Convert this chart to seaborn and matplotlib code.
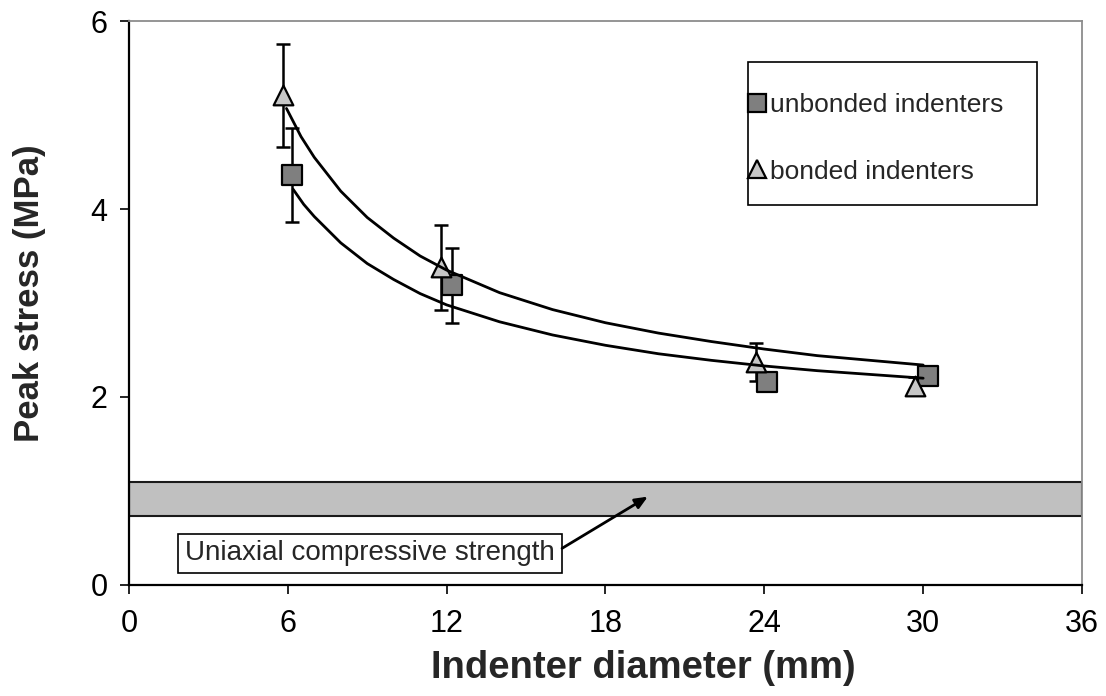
import matplotlib
matplotlib.use("Agg")
import matplotlib.pyplot as plt
from matplotlib.patches import Rectangle
from matplotlib.lines import Line2D
import pandas as pd
import seaborn as sns

# Peak stress (MPa) per indenter, mean and standard deviation
unbonded_diam = [6.15, 12.2, 24.1, 30.2]
unbonded_stress = [4.36, 3.19, 2.16, 2.22]
unbonded_err = [0.50, 0.40, 0.05, 0.05]

bonded_diam = [5.8, 11.8, 23.7, 29.7]
bonded_stress = [5.21, 3.38, 2.37, 2.12]
bonded_err = [0.55, 0.45, 0.20, 0.09]

# Fitted trend curves
unbonded_fit_x = [6.2, 6.6, 7, 8, 9, 10, 11, 12, 14, 16, 18, 20, 22, 24, 26, 28, 30]
unbonded_fit_y = [4.21, 4.05, 3.92, 3.64, 3.42, 3.25, 3.10, 2.98, 2.80, 2.66,
                  2.55, 2.46, 2.39, 2.33, 2.28, 2.24, 2.20]
bonded_fit_x = [5.95, 6.5, 7, 8, 9, 10, 11, 12, 14, 16, 18, 20, 22, 24, 26, 28, 30]
bonded_fit_y = [5.07, 4.77, 4.55, 4.19, 3.91, 3.69, 3.50, 3.35, 3.11, 2.93,
                2.79, 2.68, 2.59, 2.51, 2.44, 2.39, 2.34]

# Uniaxial compressive strength range (MPa)
ucs_low, ucs_high = 0.73, 1.10

x_ticks = [0, 6, 12, 18, 24, 30, 36]
y_ticks = [0, 2, 4, 6]

sns.set_style("white")
plt.rcParams["font.family"] = ["Liberation Sans", "DejaVu Sans"]

fig = plt.figure(figsize=(11.06, 6.96), dpi=100)
ax = fig.add_axes([0.1166, 0.1595, 0.8617, 0.8103])

SQ_FILL = "#7f7f7f"
TRI_FILL = "#c6c6c6"

# strength band
ax.add_patch(Rectangle((0, ucs_low), 36, ucs_high - ucs_low, facecolor="#c0c0c0",
                       edgecolor="#1a1a1a", linewidth=1.5, zorder=1))

# error bars
ax.errorbar(unbonded_diam, unbonded_stress, yerr=unbonded_err, fmt="none",
            ecolor="black", elinewidth=1.8, capsize=5, capthick=1.8, zorder=2)
ax.errorbar(bonded_diam, bonded_stress, yerr=bonded_err, fmt="none",
            ecolor="black", elinewidth=1.8, capsize=5, capthick=1.8, zorder=2)

# markers
unb = pd.DataFrame({"d": unbonded_diam, "s": unbonded_stress})
bon = pd.DataFrame({"d": bonded_diam, "s": bonded_stress})
sns.scatterplot(data=unb, x="d", y="s", marker="s", s=190, color=SQ_FILL,
                edgecolor="black", linewidth=1.6, ax=ax, zorder=3)
sns.scatterplot(data=bon, x="d", y="s", marker="^", s=200, color=TRI_FILL,
                edgecolor="black", linewidth=1.6, ax=ax, zorder=4)

# trend curves
fu = pd.DataFrame({"x": unbonded_fit_x, "y": unbonded_fit_y})
fb = pd.DataFrame({"x": bonded_fit_x, "y": bonded_fit_y})
sns.lineplot(data=fu, x="x", y="y", color="black", linewidth=2.0, ax=ax,
             sort=False, estimator=None, zorder=5)
sns.lineplot(data=fb, x="x", y="y", color="black", linewidth=2.0, ax=ax,
             sort=False, estimator=None, zorder=5)

ax.set_xlim(0, 36)
ax.set_ylim(0, 6)
ax.set_xticks(x_ticks)
ax.set_yticks(y_ticks)
ax.tick_params(axis="both", direction="out", length=6.5, width=1.2,
               labelsize=22, colors="black", pad=9)
ax.tick_params(axis="x", pad=11)
ax.tick_params(bottom=True, left=True)

for side in ["left", "bottom"]:
    ax.spines[side].set_color("black")
    ax.spines[side].set_linewidth(1.6)
for side in ["top", "right"]:
    ax.spines[side].set_color("#8c8c8c")
    ax.spines[side].set_linewidth(1.3)

ax.set_xlabel("Indenter diameter (mm)", fontsize=27.5, fontweight="bold")
ax.set_ylabel("Peak stress (MPa)", fontsize=25, fontweight="bold")
ax.xaxis.set_label_coords(0.54, -0.116)
ax.yaxis.set_label_coords(-0.087, 0.518)

# label box and arrow for the strength band
ax.text(9.1, 0.335, "Uniaxial compressive strength", fontsize=20,
        ha="center", va="center", zorder=6,
        bbox=dict(boxstyle="square,pad=0.25", facecolor="white",
                  edgecolor="black", linewidth=1.2))
ax.annotate("", xy=(19.6, 0.94), xytext=(16.36, 0.39),
            arrowprops=dict(arrowstyle="-|>,head_length=0.75,head_width=0.32",
                            color="black", linewidth=2.0, shrinkA=0, shrinkB=0),
            zorder=6)

# legend
ax.add_patch(Rectangle((0.6495, 0.674), 0.3033, 0.2533, transform=ax.transAxes,
                       facecolor="white", edgecolor="black", linewidth=1.2, zorder=6))
handles = [
    Line2D([], [], marker="s", linestyle="none", markersize=13,
           markerfacecolor=SQ_FILL, markeredgecolor="black", markeredgewidth=1.6),
    Line2D([], [], marker="^", linestyle="none", markersize=13,
           markerfacecolor=TRI_FILL, markeredgecolor="black", markeredgewidth=1.6),
]
leg = ax.legend(handles, ["unbonded indenters", "bonded indenters"],
                loc="upper left", bbox_to_anchor=(0.649, 0.872), frameon=False,
                fontsize=19, handlelength=0.7, handletextpad=0.15,
                labelspacing=1.61, borderpad=0, borderaxespad=0)
leg.set_zorder(7)

fig.savefig("out.png", dpi=100)
